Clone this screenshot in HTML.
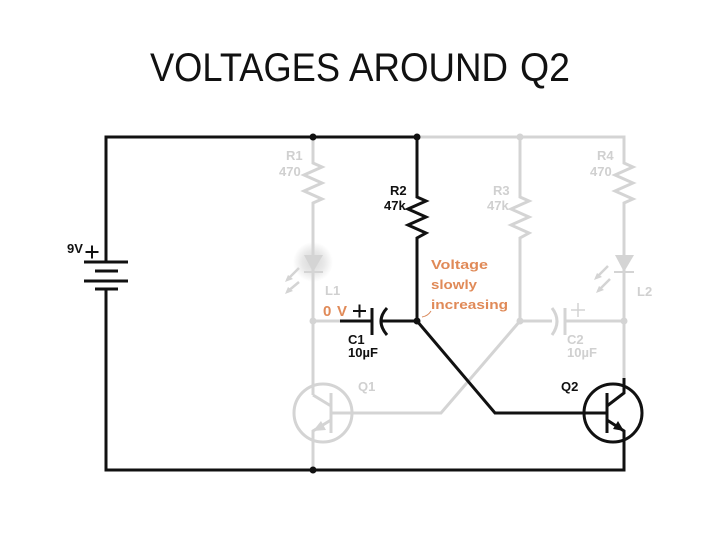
<!DOCTYPE html>
<html><head><meta charset="utf-8"><style>
html,body{margin:0;padding:0;background:#fff;width:720px;height:540px;overflow:hidden}
svg{display:block}
text{font-family:"Liberation Sans",sans-serif}
</style></head><body>
<svg width="720" height="540" viewBox="0 0 720 540" xmlns="http://www.w3.org/2000/svg">
<defs><radialGradient id="g"><stop offset="0" stop-color="#d8d8d8"/><stop offset="0.55" stop-color="#e8e8e8"/><stop offset="1" stop-color="#fff"/></radialGradient></defs>
<g font-size="40" fill="#111">
<text x="150" y="81" textLength="190" lengthAdjust="spacingAndGlyphs">VOLTAGES</text>
<text x="349" y="81" textLength="159" lengthAdjust="spacingAndGlyphs">AROUND</text>
<text x="520" y="81" textLength="50" lengthAdjust="spacingAndGlyphs">Q2</text>
</g>

<circle cx="313" cy="262" r="20" fill="url(#g)"/>

<!-- gray -->
<g fill="none" stroke="#d4d4d4" stroke-width="3">
<path d="M417 137H624V163L633 167L615 175L633 183L615 191L633 199L624 203V378"/>
<path d="M520 137V197L529 201L511 209L529 217L511 225L529 233L520 238V321"/>
<path d="M313 137V163L322 167L304 175L322 183L304 191L322 199L313 203V395"/>
<path d="M313 321H340"/>
<path d="M520 321H552M565 321H624"/>
<path d="M520 321L441 413H331"/>
<circle cx="323" cy="413" r="29"/>
<path d="M331 393V433"/>
<path d="M313 395L331 406"/>
<path d="M331 420L313 431V470"/>
<path d="M565 308V335"/>
<path d="M552 308Q562 321 552 335"/>
<path d="M578 303V317M571 310H585" stroke-width="1.5"/>
<path d="M304 272H323M614 272H634" stroke-width="2"/>
<path d="M299 268L287 280M299 282L287 292M608 266L596 278M610 279L598 291" stroke-width="2.5"/>
</g>
<g fill="#d4d4d4">
<path d="M304 255H323L313 272Z"/>
<path d="M615 255H634L624 272Z"/>
<path d="M285 282L293 279L288 275Z M285 294L293 291L288 287Z M594 280L602 277L597 273Z M596 293L604 290L599 286Z"/>
<path d="M313 431L321 421L326 430Z"/>
<circle cx="520" cy="137" r="3.5"/>
<circle cx="520" cy="321" r="3.5"/>
<circle cx="313" cy="321" r="3.5"/>
<circle cx="624" cy="321" r="3.5"/>
</g>

<!-- black -->
<g fill="none" stroke="#111" stroke-width="3">
<path d="M106 250V137H417"/>
<path d="M106 262V250M106 289V470H624V431L607 420"/>
<path d="M417 137V197L426 201L408 209L426 217L408 225L426 233L417 238V321"/>
<path d="M84 262H128M84 281H128M95 271H118M95 289H118"/>
<path d="M340 321H372M381 321H417"/>
<path d="M372 308V335"/>
<path d="M387 308Q375 321 387 335"/>
<path d="M417 321L495 413H607"/>
<circle cx="613" cy="413" r="29"/>
<path d="M607 393V433"/>
<path d="M607 406L624 393V378"/>
<path d="M353 311H366M359.500 304.500V317.500M85.500 252H98.500M92 245.500V258.500" stroke-width="2"/>
</g>
<g fill="#111">
<circle cx="313" cy="137" r="3.500"/>
<circle cx="417" cy="137" r="3.500"/>
<circle cx="417" cy="321" r="3.500"/>
<circle cx="313" cy="470" r="3.500"/>
<path d="M624 431L613 429L618 421Z"/>
</g>

<path d="M422 317Q428 316 431 311" fill="none" stroke="#d98a5c" stroke-width="1"/>

<!-- labels -->
<g font-weight="bold" font-size="13" fill="#d0d0d0">
<text x="286" y="160">R1</text><text x="279" y="176">470</text>
<text x="493" y="195">R3</text><text x="487" y="210">47k</text>
<text x="597" y="160">R4</text><text x="590" y="176">470</text>
<text x="325" y="295">L1</text>
<text x="637" y="296">L2</text>
<text x="358" y="391">Q1</text>
<text x="567" y="344">C2</text><text x="567" y="357">10µF</text>
</g>
<g font-weight="bold" font-size="13" fill="#111">
<text x="390" y="195">R2</text><text x="384" y="210">47k</text>
<text x="67" y="253">9V</text>
<text x="348" y="344">C1</text><text x="348" y="357">10µF</text>
<text x="561" y="391">Q2</text>
</g>
<g font-weight="bold" fill="#e08a58">
<text x="323" y="316" font-size="15" textLength="24">0 V</text>
<g font-size="13">
<text x="431" y="269" textLength="57" lengthAdjust="spacingAndGlyphs">Voltage</text>
<text x="431" y="289" textLength="46" lengthAdjust="spacingAndGlyphs">slowly</text>
<text x="431" y="309" textLength="77" lengthAdjust="spacingAndGlyphs">increasing</text>
</g>
</g>
</svg>
</body></html>
